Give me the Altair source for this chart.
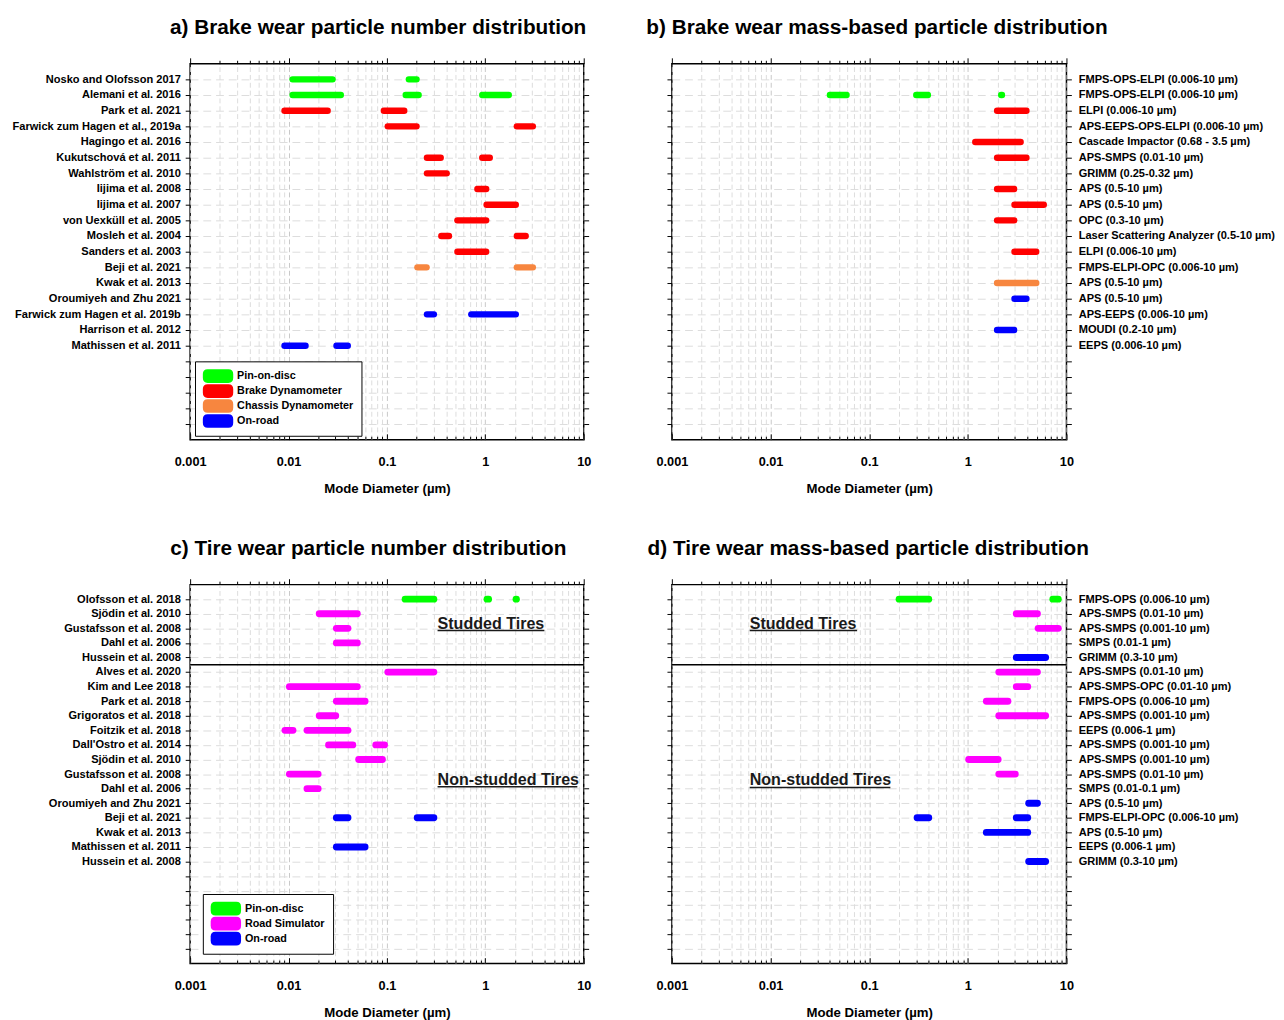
import json
import altair as alt
import pandas as pd

FONT = "Liberation Sans"
GREEN, RED, ORANGE, BLUE, MAGENTA = "#00FF00", "#FF0000", "#F7863F", "#0000FF", "#FF00FF"

# ---------------- panel a: brake wear, number distribution ----------------
a_labels = ["Nosko and Olofsson 2017", "Alemani et al. 2016", "Park et al. 2021",
            "Farwick zum Hagen et al., 2019a", "Hagingo et al. 2016", "Kukutschová et al. 2011",
            "Wahlström et al. 2010", "Iijima et al. 2008", "Iijima et al. 2007",
            "von Uexküll et al. 2005", "Mosleh et al. 2004", "Sanders et al. 2003",
            "Beji et al. 2021", "Kwak et al. 2013", "Oroumiyeh and Zhu 2021",
            "Farwick zum Hagen et al. 2019b", "Harrison et al. 2012", "Mathissen et al. 2011"]
a_row = [1, 1, 2, 2, 2, 3, 3, 4, 4, 6, 6, 7, 8, 9, 10, 11, 11, 12, 13, 13, 16, 16, 18, 18]
a_start = [0.011, 0.167, 0.011, 0.155, 0.93, 0.0091, 0.093, 0.102, 2.09, 0.255, 0.93, 0.255,
           0.83, 1.03, 0.52, 0.357, 2.09, 0.52, 0.204, 2.09, 0.255, 0.72, 0.0091, 0.0307]
a_end = [0.028, 0.2, 0.034, 0.21, 1.73, 0.025, 0.15, 0.2, 3.04, 0.352, 1.11, 0.405,
         1.02, 2.04, 1.02, 0.427, 2.57, 1.02, 0.253, 3.04, 0.30, 2.04, 0.0149, 0.040]
a_cat = ["Pin-on-disc"] * 5 + ["Brake Dynamometer"] * 13 + ["Chassis Dynamometer"] * 2 + ["On-road"] * 4
a_domain = ["Pin-on-disc", "Brake Dynamometer", "Chassis Dynamometer", "On-road"]
a_colors = [GREEN, RED, ORANGE, BLUE]

# ---------------- panel b: brake wear, mass-based distribution ----------------
b_labels = ["FMPS-OPS-ELPI (0.006-10 µm)", "FMPS-OPS-ELPI (0.006-10 µm)", "ELPI (0.006-10 µm)",
            "APS-EEPS-OPS-ELPI (0.006-10 µm)", "Cascade Impactor (0.68 - 3.5 µm)",
            "APS-SMPS (0.01-10 µm)", "GRIMM (0.25-0.32 µm)", "APS (0.5-10 µm)", "APS (0.5-10 µm)",
            "OPC (0.3-10 µm)", "Laser Scattering Analyzer (0.5-10 µm)", "ELPI (0.006-10 µm)",
            "FMPS-ELPI-OPC (0.006-10 µm)", "APS (0.5-10 µm)", "APS (0.5-10 µm)",
            "APS-EEPS (0.006-10 µm)", "MOUDI (0.2-10 µm)", "EEPS (0.006-10 µm)"]
b_row = [2, 2, 2, 3, 5, 6, 8, 9, 10, 12, 14, 15, 17]
b_start = [0.040, 0.30, 2.18, 1.98, 1.19, 1.98, 1.98, 2.97, 1.98, 2.97, 1.98, 2.97, 1.98]
b_end = [0.059, 0.394, 2.22, 3.93, 3.43, 3.93, 2.95, 5.89, 2.95, 4.94, 4.94, 3.93, 2.95]
b_cat = ["Pin-on-disc"] * 3 + ["Brake Dynamometer"] * 7 + ["Chassis Dynamometer"] + ["On-road"] * 2

# ---------------- panel c: tire wear, number distribution ----------------
c_labels = ["Olofsson et al. 2018", "Sjödin et al. 2010", "Gustafsson et al. 2008", "Dahl et al. 2006",
            "Hussein et al. 2008", "Alves et al. 2020", "Kim and Lee 2018", "Park et al. 2018",
            "Grigoratos et al. 2018", "Foitzik et al. 2018", "Dall'Ostro et al. 2014",
            "Sjödin et al. 2010", "Gustafsson et al. 2008", "Dahl et al. 2006",
            "Oroumiyeh and Zhu 2021", "Beji et al. 2021", "Kwak et al. 2013",
            "Mathissen et al. 2011", "Hussein et al. 2008"]
c_row = [1, 1, 1, 2, 3, 4, 6, 7, 8, 9, 10, 10, 11, 11, 12, 13, 14, 16, 16, 18]
c_start = [0.153, 1.04, 2.05, 0.0205, 0.0306, 0.0306, 0.102, 0.0102, 0.0306, 0.0205, 0.0092,
           0.0154, 0.0255, 0.077, 0.0516, 0.0102, 0.0154, 0.0306, 0.203, 0.0306]
c_end = [0.30, 1.08, 2.07, 0.050, 0.0402, 0.050, 0.30, 0.050, 0.060, 0.0302, 0.0111,
         0.0402, 0.045, 0.0945, 0.090, 0.020, 0.020, 0.0402, 0.30, 0.060]
c_cat = ["Pin-on-disc"] * 3 + ["Road Simulator"] * 14 + ["On-road"] * 3
c_domain = ["Pin-on-disc", "Road Simulator", "On-road"]
c_colors = [GREEN, MAGENTA, BLUE]

# ---------------- panel d: tire wear, mass-based distribution ----------------
d_labels = ["FMPS-OPS (0.006-10 µm)", "APS-SMPS (0.01-10 µm)", "APS-SMPS (0.001-10 µm)",
            "SMPS (0.01-1 µm)", "GRIMM (0.3-10 µm)", "APS-SMPS (0.01-10 µm)",
            "APS-SMPS-OPC (0.01-10 µm)", "FMPS-OPS (0.006-10 µm)", "APS-SMPS (0.001-10 µm)",
            "EEPS (0.006-1 µm)", "APS-SMPS (0.001-10 µm)", "APS-SMPS (0.001-10 µm)",
            "APS-SMPS (0.01-10 µm)", "SMPS (0.01-0.1 µm)", "APS (0.5-10 µm)",
            "FMPS-ELPI-OPC (0.006-10 µm)", "APS (0.5-10 µm)", "EEPS (0.006-1 µm)", "GRIMM (0.3-10 µm)"]
d_row = [1, 1, 2, 3, 5, 6, 7, 8, 9, 12, 13, 15, 16, 16, 17, 19]
d_start = [0.201, 7.27, 3.10, 5.16, 3.10, 2.06, 3.10, 1.54, 2.06, 1.02, 2.06, 4.14, 0.306, 3.10, 1.54, 4.14]
d_end = [0.402, 8.27, 5.08, 8.27, 6.15, 5.08, 4.05, 2.55, 6.15, 2.03, 3.03, 5.08, 0.402, 4.05, 4.05, 6.15]
d_cat = ["Pin-on-disc"] * 2 + ["Road Simulator", "Road Simulator", "On-road"] + ["Road Simulator"] * 6 + ["On-road"] * 5

# studded / non-studded separator and annotations (tire panels)
sep_rows = [5.5]
ann_text = ["Studded Tires", "Non-studded Tires"]
c_ann_x, c_ann_x2, c_ann_row = [0.327, 0.327], [3.98, 8.61], [3.02, 13.74]
d_ann_x, d_ann_x2, d_ann_row = [0.00615, 0.00615], [0.0755, 0.164], [3.02, 13.78]

XTICKS = [round(m * 10.0 ** e, 6) for e in range(-3, 1) for m in range(1, 10)] + [10]
MAJOR = "indexof([0.001, 0.01, 0.1, 1, 10], datum.value) >= 0"
PATH = ("M-0.3,-1 L2.73,-1 Q3.43,-1 3.43,-0.3 L3.43,0.3 Q3.43,1 2.73,1 "
        "L-0.3,1 Q-1,1 -1,0.3 L-1,-0.3 Q-1,-1 -0.3,-1 Z")


def make_panel(title, title_dx, labels, n_ticks, label_side, width, height,
               rows, starts, ends, cats, cat_domain, cat_range, bar_w,
               legend_xy=None, sep=None, ann=None):
    cmap = dict(zip(cat_domain, cat_range))
    df = pd.DataFrame({"row": rows, "start": starts, "end": ends, "cat": cats,
                       "color": [cmap[c] for c in cats]})
    xs = alt.Scale(type="log", domain=[0.001, 10], nice=False)
    ys = alt.Scale(domain=[0, n_ticks + 1], reverse=True, nice=False, zero=False)
    yvals = list(range(1, n_ticks + 1))
    arr = json.dumps(labels, ensure_ascii=False)
    lexpr = f"datum.value <= {len(labels)} ? {arr}[datum.value - 1] : ''"
    tick_size = {"condition": {"test": MAJOR, "value": 6}, "value": 3.5}
    grid_color = {"condition": {"test": MAJOR, "value": "#c8c8c8"}, "value": "#dcdcdc"}
    ycommon = dict(values=yvals, tickSize=5, tickColor="black", tickWidth=1, domain=False,
                   title=None, labelFont=FONT, labelFontSize=11.3, labelFontWeight="bold",
                   labelColor="black", labelExpr=lexpr, labelOverlap=False, labelLimit=400)

    x_bottom = alt.Axis(orient="bottom", values=XTICKS, labelExpr=f"{MAJOR} ? '' + datum.value : ''",
                        ticks=False, tickSize=0, domain=False, grid=True, gridColor=grid_color,
                        gridDash=[5, 3], gridWidth=1, labelPadding=16.5, labelFont=FONT,
                        labelFontSize=13, labelFontWeight="bold", labelColor="black",
                        labelOverlap=False, labelFlush=False, title="Mode Diameter (µm)",
                        titleFont=FONT, titleFontSize=13.5, titleFontWeight="bold",
                        titleColor="black", titlePadding=13.5)
    y_left = alt.Axis(orient="left", labels=(label_side == "left"), grid=True, gridColor="#dcdcdc",
                      gridDash=[8, 5], labelPadding=5, **ycommon)
    bars = alt.Chart(df).mark_rule(strokeWidth=bar_w, strokeCap="round").encode(
        x=alt.X("start:Q", scale=xs, axis=x_bottom),
        x2="end:Q",
        y=alt.Y("row:Q", scale=ys, axis=y_left),
        stroke=alt.Stroke("color:N", scale=None),
    )

    x_top = alt.Axis(orient="top", values=XTICKS, labels=False, tickSize=tick_size, tickColor="black",
                     domain=False, grid=False, title=None)
    y_right = alt.Axis(orient="right", labels=(label_side == "right"), grid=False, labelPadding=7, **ycommon)
    ghost1 = alt.Chart(df).mark_rule(opacity=0).encode(
        x=alt.X("start:Q", scale=xs, axis=x_top), x2="end:Q",
        y=alt.Y("row:Q", scale=ys, axis=y_right))

    x_in = alt.Axis(orient="top", offset=-height, values=XTICKS, labels=False, tickSize=tick_size,
                    tickColor="black", domain=False, grid=False, title=None)
    ghost2 = alt.Chart(df).mark_rule(opacity=0).encode(
        x=alt.X("start:Q", scale=xs, axis=x_in), x2="end:Q",
        y=alt.Y("row:Q", scale=ys, axis=None))

    layers = [bars, ghost1, ghost2]

    if sep is not None:
        sdf = pd.DataFrame({"row": sep})
        layers.append(alt.Chart(sdf).mark_rule(color="black", strokeWidth=1.5).encode(
            y=alt.Y("row:Q", scale=ys, axis=None)))

    if ann is not None:
        adf = pd.DataFrame({"text": ann[0], "x": ann[1], "x2": ann[2], "row": ann[3]})
        layers.append(alt.Chart(adf).mark_text(align="left", baseline="alphabetic", font=FONT,
                                               fontSize=16.4, fontWeight="bold", color="#1a1a1a").encode(
            x=alt.X("x:Q", scale=xs, axis=None), y=alt.Y("row:Q", scale=ys, axis=None), text="text:N"))
        layers.append(alt.Chart(adf).mark_rule(color="#1a1a1a", strokeWidth=1.5, yOffset=2).encode(
            x=alt.X("x:Q", scale=xs, axis=None), x2="x2:Q", y=alt.Y("row:Q", scale=ys, axis=None)))

    if legend_xy is not None:
        leg = alt.Legend(orient="none", legendX=legend_xy[0], legendY=legend_xy[1], title=None,
                         direction="vertical", fillColor="white", strokeColor="black", padding=8,
                         symbolType=PATH, symbolSize=196, symbolStrokeWidth=0, symbolOpacity=1,
                         labelOffset=21, rowPadding=1.3, labelFont=FONT, labelFontSize=11,
                         labelFontWeight="bold", labelColor="black")
        layers.append(alt.Chart(df).mark_point(filled=True, size=0).encode(
            x=alt.X("start:Q", scale=xs, axis=None), y=alt.Y("row:Q", scale=ys, axis=None),
            fill=alt.Fill("cat:N", scale=alt.Scale(domain=cat_domain, range=cat_range), legend=leg)))

    return alt.layer(*layers).resolve_axis(x="independent", y="independent").properties(
        width=width, height=height,
        title=alt.TitleParams(text=title, font=FONT, fontSize=21.2, fontWeight="bold", color="black",
                              anchor="middle", dx=title_dx, offset=3, baseline="alphabetic"))


pa = make_panel("a) Brake wear particle number distribution", -9, a_labels, 23, "left", 402, 384,
                a_row, a_start, a_end, a_cat, a_domain, a_colors, 6.5, legend_xy=(5, 304))
pb = make_panel("b) Brake wear mass-based particle distribution", 8, b_labels, 23, "right", 403, 384,
                b_row, b_start, b_end, b_cat, a_domain, a_colors, 6.5)
pc = make_panel("c) Tire wear particle number distribution", -19, c_labels, 25, "left", 402, 387,
                c_row, c_start, c_end, c_cat, c_domain, c_colors, 7, legend_xy=(13, 316),
                sep=sep_rows, ann=(ann_text, c_ann_x, c_ann_x2, c_ann_row))
pd_ = make_panel("d) Tire wear mass-based particle distribution", -1, d_labels, 25, "right", 403, 387,
                 d_row, d_start, d_end, d_cat, c_domain, c_colors, 7,
                 sep=sep_rows, ann=(ann_text, d_ann_x, d_ann_x2, d_ann_row))

chart = alt.concat(pa, pb, pc, pd_, columns=2, spacing={"row": 148, "column": 90}, bounds="flush").resolve_scale(
    fill="independent").properties(
    padding={"left": 3, "top": -3, "right": 0, "bottom": 0}).configure_view(stroke="black", strokeWidth=1.5)

chart.save("out.html", embed_options={"renderer": "svg", "actions": False})
